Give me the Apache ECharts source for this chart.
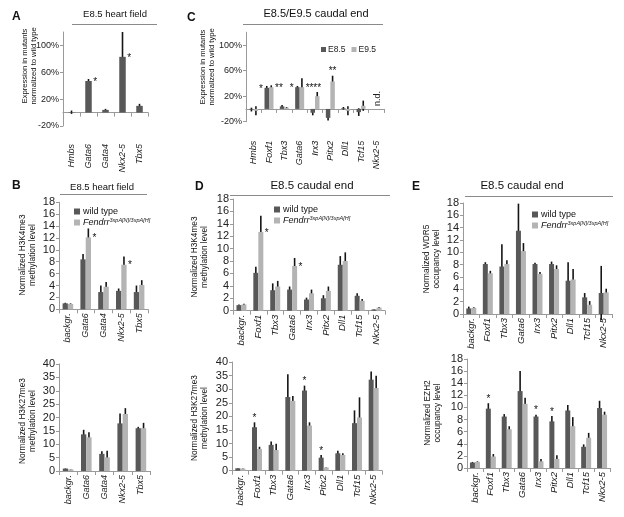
<!DOCTYPE html>
<html><head><meta charset="utf-8">
<script src="https://cdn.jsdelivr.net/npm/echarts@6/dist/echarts.min.js"></script>
<style>html,body{margin:0;padding:0;background:#fff}#c{width:624px;height:517px}</style>
</head><body><div id="c"></div>
<script>
// ---------------- DATA ----------------
// Panel A: E8.5 heart field, expression in mutants (%)
const catsA = ['Hmbs','Gata6','Gata4','Nkx2-5','Tbx5'];
const valA  = [0.5, 47, 4, 83, 10];
const errA  = [2.5, 3, 1.5, 37, 3];
const sigA  = ['', '*', '', '*', ''];
const ticksA = [-20, 20, 60, 100];

// Panel C: E8.5/E9.5 caudal end (%)
const catsC = ['Hmbs','Foxf1','Tbx3','Gata6','Irx3','Pitx2','Dll1','Tcf15','Nkx2-5'];
const valC85 = [-1, 33, 4, 34, -6, -14, 1, -5, null];
const errC85 = [3, 3, 2, 2, 4, 4, 2, 6, null];
const valC95 = [-3, 34, 2, 34, 20, 43, -3, 5, null];
const errC95 = [7, 3, 1, 14, 6.5, 9, 7, 8, null];
const sigC85 = ['', '*', '', '*', '', '', '', '', ''];
const sigC95 = ['', '**', '', '**', '**', '**', '', '', ''];
const noteC  = ['', '', '', '', '', '', '', '', 'n.d.'];

// Panel B: E8.5 heart field
const catsB = ['backgr.','Gata6','Gata4','Nkx2-5','Tbx5'];
const b1Wt  = [1.0, 8.4, 2.9, 3.1, 2.9];
const b1WtE = [0.1, 0.9, 1.1, 0.4, 1.1];
const b1Mu  = [0.9, 12.1, 3.8, 7.5, 4.1];
const b1MuE = [0.1, 1.5, 0.8, 1.4, 0.8];
const b1Sig = ['', '*', '', '*', ''];
const b2Wt  = [0.9, 13.7, 6.4, 17.8, 16.0];
const b2WtE = [0.1, 1.7, 1.0, 3.7, 0.5];
const b2Mu  = [0.6, 12.6, 5.1, 21.3, 16.0];
const b2MuE = [0.1, 1.9, 2.5, 2.2, 2.0];

// Panels D and E: E8.5 caudal end
const catsD = ['backgr.','Foxf1','Tbx3','Gata6','Irx3','Pitx2','Dll1','Tcf15','Nkx2-5'];
const d1Wt  = [0.9, 6.1, 3.3, 3.4, 1.8, 2.0, 7.4, 2.4, 0.2];
const d1WtE = [0.1, 1.0, 1.1, 0.5, 0.3, 0.5, 1.4, 0.4, 0.05];
const d1Mu  = [1.0, 12.7, 3.9, 7.2, 2.8, 3.2, 8.0, 1.6, 0.5];
const d1MuE = [0.1, 2.6, 0.9, 1.3, 0.6, 0.7, 1.4, 0.3, 0.1];
const d1Sig = ['', '*', '', '*', '', '', '', '', ''];
const d2Wt  = [0.9, 16.0, 9.5, 27.1, 29.5, 4.8, 6.4, 17.5, 33.5];
const d2WtE = [0.1, 1.8, 1.2, 8.4, 1.8, 1.0, 0.9, 4.7, 3.0];
const d2Mu  = [0.8, 8.0, 7.6, 25.7, 16.6, 1.2, 5.8, 19.6, 30.4];
const d2MuE = [0.1, 0.8, 2.3, 1.8, 1.2, 0.1, 0.6, 7.4, 4.5];
const d2Sig = ['', '*', '', '', '*', '*', '', '', ''];
const e1Wt  = [0.9, 8.1, 7.7, 13.5, 8.1, 8.1, 5.4, 2.7, 3.4];
const e1WtE = [0.3, 0.3, 3.6, 4.4, 0.2, 0.4, 3.0, 0.7, 4.4];
const e1Mu  = [1.0, 6.6, 8.1, 10.2, 6.5, 7.3, 5.6, 1.5, 3.5];
const e1MuE = [0.1, 0.4, 0.6, 1.3, 0.3, 0.6, 1.7, 0.6, 0.6];
const e2Wt  = [0.9, 9.8, 8.5, 12.7, 8.5, 7.7, 9.5, 3.5, 9.9];
const e2WtE = [0.1, 0.9, 0.4, 3.3, 0.3, 0.9, 0.9, 0.4, 1.2];
const e2Mu  = [1.0, 1.9, 6.4, 10.6, 1.1, 1.5, 6.9, 5.0, 8.8];
const e2MuE = [0.1, 0.4, 0.5, 1.0, 0.4, 0.6, 1.5, 0.8, 0.5];
const e2Sig = ['', '*', '', '', '*', '*', '', '', ''];

// ---------------- BUILD ----------------
const FONT = '"Liberation Sans", Arial, Helvetica, sans-serif';
const DARK = '#585858', LIGHT = '#b4b4b4', AX = '#9a9a9a';
const grids = [], xAxes = [], yAxes = [], series = [], legends = [], graphics = [];

function panel(cfg) {
  const gi = grids.length;
  grids.push({left: cfg.left, top: cfg.top, width: cfg.width, height: cfg.height});
  xAxes.push({type: 'category', gridIndex: gi, data: cfg.cats,
    axisLine: {onZero: true, lineStyle: {color: AX, width: 1}},
    axisTick: {show: true, length: 4, lineStyle: {color: AX}},
    axisLabel: {rotate: 90, interval: 0, margin: cfg.labelMargin, fontSize: cfg.catFont,
      fontStyle: 'italic', color: '#1a1a1a', fontFamily: FONT}});
  yAxes.push({type: 'value', gridIndex: gi, min: cfg.min, max: cfg.max, interval: cfg.interval,
    axisLine: {show: true, lineStyle: {color: AX}},
    axisTick: {show: true, length: 3, lineStyle: {color: AX}},
    splitLine: {show: false},
    axisLabel: {fontSize: cfg.yFont, color: '#222', margin: 4, fontFamily: FONT,
      showMaxLabel: cfg.showMax !== false,
      formatter: v => (cfg.ticks && cfg.ticks.indexOf(v) < 0) ? '' : (v + (cfg.pct ? '%' : ''))}});
  const n = cfg.series.length;
  const bw = cfg.bw;
  cfg.series.forEach((s, k) => {
    const off = n === 1 ? 0 : (k === 0 ? -bw / 2 : bw / 2);
    series.push({type: 'bar', name: s.name, xAxisIndex: gi, yAxisIndex: gi, data: s.val,
      barWidth: bw, barGap: '0%', itemStyle: {color: s.color}, silent: true, animation: false});
    const edata = s.val.map((v, i) => [i, v, s.err[i]]).filter(d => d[1] != null);
    series.push({type: 'custom', xAxisIndex: gi, yAxisIndex: gi, data: edata, silent: true, animation: false,
      renderItem: (p, api) => {
        const i = api.value(0), v = api.value(1), e = api.value(2);
        const lo = api.coord([i, v - e]), hi = api.coord([i, v + e]);
        const x = lo[0] + off;
        return {type: 'line', shape: {x1: x, y1: lo[1], x2: x, y2: hi[1]},
          style: {stroke: '#151515', lineWidth: 1.6}};
      }});
    if (s.sig) {
      const sdata = s.val.map((v, i) => [i, v, s.err[i]]).filter(d => s.sig[d[0]]);
      series.push({type: 'custom', xAxisIndex: gi, yAxisIndex: gi, data: sdata, silent: true, animation: false,
        renderItem: (p, api) => {
          const i = api.value(0), v = api.value(1), e = api.value(2);
          const txt = s.sig[i];
          const mode = typeof s.mode === 'function' ? s.mode(i) : s.mode;
          const c = api.coord([i, v]);
          let x, y, align = 'center';
          if (mode === 'right') { x = c[0] + off + bw / 2 + 1.5; y = c[1] + 1; align = 'left'; }
          else if (mode === 'left') { x = c[0] + off - bw / 2 - 1.5; y = c[1] + 1; align = 'right'; }
          else { x = c[0] + off; y = api.coord([i, v + e])[1] + 1; }
          return {type: 'text', x: x, y: y,
            style: {text: txt, fill: '#111', font: '10px ' + FONT, textAlign: align,
              textVerticalAlign: mode === 'top' ? 'bottom' : 'middle'}};
        }});
    }
  });
  if (cfg.note) {
    const ndata = cfg.note.map((t, i) => [i, 0]).filter(d => cfg.note[d[0]]);
    series.push({type: 'custom', xAxisIndex: gi, yAxisIndex: gi, data: ndata, silent: true, animation: false,
      renderItem: (p, api) => {
        const i = api.value(0);
        const c = api.coord([i, 0]);
        return {type: 'text', x: c[0] + 1, y: c[1] - 3, rotation: Math.PI / 2,
          style: {text: cfg.note[i], fill: '#222', font: '9px ' + FONT, textAlign: 'left', textVerticalAlign: 'middle'}};
      }});
  }
  return gi;
}

// Panel A
panel({left: 63, top: 32, width: 85, height: 94, cats: catsA, min: -20, max: 120, interval: 40,
  ticks: ticksA, pct: true, showMax: false, yFont: 9, catFont: 9, labelMargin: 18, bw: 6.5,
  series: [{name: 'A', val: valA, err: errA, color: DARK, sig: sigA, mode: 'right'}]});
// Panel C
panel({left: 246, top: 32.3, width: 138, height: 89.4, cats: catsC, min: -20, max: 120, interval: 40,
  ticks: ticksA, pct: true, showMax: false, yFont: 9, catFont: 9, labelMargin: 19, bw: 4.5, note: noteC,
  series: [{name: 'E8.5', val: valC85, err: errC85, color: DARK, sig: sigC85, mode: 'left'},
           {name: 'E9.5', val: valC95, err: errC95, color: LIGHT, sig: sigC95,
            mode: i => (sigC85[i] ? 'right' : 'top')}]});
// Panel B top
panel({left: 59, top: 202.3, width: 89, height: 107, cats: catsB, min: 0, max: 18, interval: 2,
  yFont: 11, catFont: 9, labelMargin: 4, bw: 5.3,
  series: [{name: 'wild type', val: b1Wt, err: b1WtE, color: DARK},
           {name: 'Fendrr', val: b1Mu, err: b1MuE, color: LIGHT, sig: b1Sig, mode: 'right'}]});
// Panel B bottom
panel({left: 59, top: 364, width: 91, height: 107, cats: catsB, min: 0, max: 40, interval: 5,
  yFont: 11, catFont: 9, labelMargin: 4, bw: 5.3,
  series: [{name: 'wild type', val: b2Wt, err: b2WtE, color: DARK},
           {name: 'Fendrr', val: b2Mu, err: b2MuE, color: LIGHT}]});
// Panel D top
panel({left: 233, top: 199, width: 152, height: 111.7, cats: catsD, min: 0, max: 18, interval: 2,
  yFont: 11, catFont: 9.5, labelMargin: 4, bw: 5,
  series: [{name: 'wild type', val: d1Wt, err: d1WtE, color: DARK},
           {name: 'Fendrr', val: d1Mu, err: d1MuE, color: LIGHT, sig: d1Sig, mode: 'right'}]});
// Panel D bottom
panel({left: 232, top: 362, width: 150, height: 108.7, cats: catsD, min: 0, max: 40, interval: 5,
  yFont: 11, catFont: 9.5, labelMargin: 4, bw: 5,
  series: [{name: 'wild type', val: d2Wt, err: d2WtE, color: DARK, sig: d2Sig, mode: 'top'},
           {name: 'Fendrr', val: d2Mu, err: d2MuE, color: LIGHT}]});
// Panel E top
panel({left: 463, top: 203, width: 149, height: 111, cats: catsD, min: 0, max: 18, interval: 2,
  yFont: 11, catFont: 9.5, labelMargin: 4, bw: 5,
  series: [{name: 'wild type', val: e1Wt, err: e1WtE, color: DARK},
           {name: 'Fendrr', val: e1Mu, err: e1MuE, color: LIGHT}]});
// Panel E bottom
panel({left: 467, top: 359, width: 143, height: 109, cats: catsD, min: 0, max: 18, interval: 2,
  yFont: 11, catFont: 9.5, labelMargin: 4, bw: 5,
  series: [{name: 'wild type', val: e2Wt, err: e2WtE, color: DARK, sig: e2Sig, mode: 'top'},
           {name: 'Fendrr', val: e2Mu, err: e2MuE, color: LIGHT}]});

// Legends
const richLeg = {
  n: {fontSize: 9, color: '#111', fontFamily: FONT, lineHeight: 11},
  i: {fontSize: 9, color: '#111', fontStyle: 'italic', fontFamily: FONT, lineHeight: 11},
  s: {fontSize: 5.5, color: '#111', fontStyle: 'italic', fontFamily: FONT, verticalAlign: 'top', lineHeight: 7}
};
const legFmt = name => name === 'Fendrr' ? '{i|Fendrr}{s|3xpA[N]/3xpA[H]}' : '{n|' + name + '}';
[[69, 202], [269, 200], [527, 205]].forEach(pos => {
  legends.push({orient: 'vertical', left: pos[0], top: pos[1], icon: 'rect', itemWidth: 6, itemHeight: 6,
    itemGap: 1, selectedMode: false, data: ['wild type', 'Fendrr'], formatter: legFmt,
    textStyle: {rich: richLeg, padding: [0, 0, 0, -2]}});
});
legends.push({orient: 'horizontal', left: 316, top: 40, icon: 'rect', itemWidth: 5, itemHeight: 5,
  itemGap: 6, selectedMode: false, data: ['E8.5', 'E9.5'],
  textStyle: {fontSize: 8.5, color: '#222', fontFamily: FONT, padding: [0, 0, 0, -3]}});

// Static annotations: panel letters, titles, underlines, axis names
function txt(x, y, s, size, opts) {
  graphics.push(Object.assign({type: 'text', x: x, y: y, silent: true,
    style: Object.assign({text: s, fill: '#111', font: size + 'px ' + FONT, textAlign: 'center', textVerticalAlign: 'middle'}, (opts && opts.style) || {})},
    opts && opts.rotation ? {rotation: opts.rotation} : {}));
}
function uline(x1, x2, y) {
  graphics.push({type: 'line', silent: true, shape: {x1: x1, y1: y, x2: x2, y2: y}, style: {stroke: '#8a8a8a', lineWidth: 1}});
}
[['A', 12, 17], ['C', 187, 18], ['B', 12, 186], ['D', 195, 187], ['E', 412, 187]].forEach(l =>
  txt(l[1], l[2], l[0], 12, {style: {textAlign: 'left', font: 'bold 12px ' + FONT}}));
txt(115, 14, 'E8.5 heart field', 9.5); uline(72, 157, 24.5);
txt(316, 14, 'E8.5/E9.5 caudal end', 11); uline(243, 383, 24.5);
txt(102, 187, 'E8.5 heart field', 9.5); uline(60, 147, 194.5);
txt(312, 186, 'E8.5 caudal end', 11.5); uline(230, 390, 195.5);
txt(522, 186, 'E8.5 caudal end', 11.5); uline(465, 613, 196.5);
const R = Math.PI / 2;
const nameStyle = sz => ({style: {font: sz + 'px ' + FONT, lineHeight: sz + 1.5, fill: '#111'}, rotation: R});
txt(29.5, 66, 'Expression in mutants\nnormalized to wild type', 7.6, nameStyle(7.6));
txt(207.5, 67, 'Expression in mutants\nnormalized to wild type', 7.6, nameStyle(7.6));
txt(27.5, 255, 'Normalized H3K4me3\nmethylation level', 8.3, nameStyle(8.3));
txt(27.5, 421, 'Normalized H3K27me3\nmethylation level', 8.3, nameStyle(8.3));
txt(199.5, 257, 'Normalized H3K4me3\nmethylation level', 8.3, nameStyle(8.3));
txt(199.5, 418, 'Normalized H3K27me3\nmethylation level', 8.3, nameStyle(8.3));
txt(431.5, 259, 'Normalized WDR5\noccupancy level', 8.3, nameStyle(8.3));
txt(432.5, 413, 'Normalized EZH2\noccupancy level', 8.3, nameStyle(8.3));

const chart = echarts.init(document.getElementById('c'), null, {renderer: 'canvas'});
chart.setOption({
  backgroundColor: '#fff', animation: false,
  textStyle: {fontFamily: FONT},
  grid: grids, xAxis: xAxes, yAxis: yAxes, series: series, legend: legends, graphic: graphics
});
</script></body></html>
